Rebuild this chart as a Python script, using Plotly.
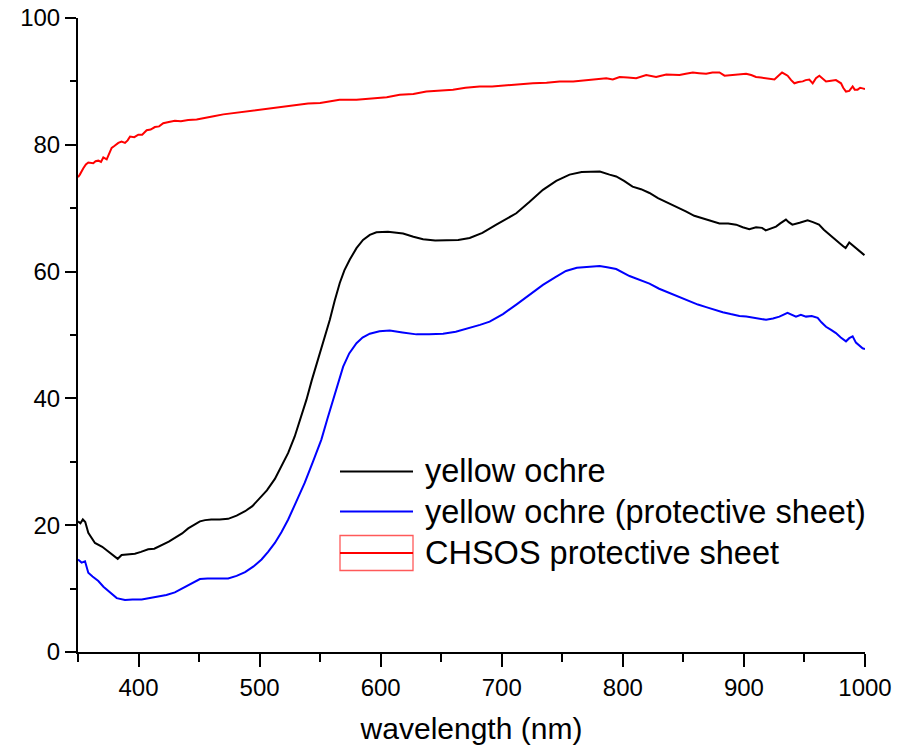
import plotly.graph_objects as go

# Reflectance spectra (%) vs wavelength (nm)
ochre_wl = [350, 352, 354, 356, 358.5, 361, 364, 370, 375, 379, 382.8, 386, 391, 397, 402, 408,
            413, 419, 425, 430, 436, 441, 446, 450.7, 455, 460, 467, 474, 481, 488, 494, 499,
            506, 512.6, 518, 523.6, 529, 534.6, 538.7, 543, 548, 553, 558, 562, 566.2, 570,
            574.5, 580, 585.4, 591, 596.5, 606, 612, 618.5, 627, 635, 645, 654, 664, 673.5,
            684, 695.5, 703, 712, 723, 734, 745, 756, 766, 775, 781, 789, 794.5, 801, 808, 815,
            822, 829, 835.8, 844, 852, 859, 866, 873, 879.8, 887, 893.6, 899, 904.5, 910, 915,
            918, 922, 926.5, 930, 934.7, 937, 940, 946, 952.6, 957, 962, 966, 970.6, 975,
            978.8, 982, 984, 987, 990, 992.5, 996, 999.5]
ochre_r = [20.6, 20.3, 20.9, 20.5, 18.8, 18.0, 17.2, 16.6, 15.9, 15.3, 14.7, 15.3, 15.4, 15.5,
           15.8, 16.2, 16.3, 16.8, 17.4, 18.0, 18.7, 19.5, 20.1, 20.6, 20.8, 20.9, 20.9, 21.0,
           21.5, 22.2, 23.0, 24.1, 25.5, 27.3, 29.2, 31.4, 34.0, 37.2, 39.8, 42.8, 46.0, 49.3,
           52.4, 55.4, 58.2, 60.2, 61.9, 63.7, 65.0, 65.8, 66.2, 66.3, 66.2, 66.0, 65.5, 65.1,
           64.9, 64.9, 65.0, 65.3, 66.1, 67.4, 68.2, 69.2, 71.0, 72.9, 74.3, 75.3, 75.7, 75.8,
           75.8, 75.3, 75.0, 74.3, 73.4, 73.0, 72.4, 71.6, 71.0, 70.2, 69.5, 68.8, 68.4, 67.9,
           67.6, 67.6, 67.4, 67.0, 66.7, 67.0, 66.9, 66.5, 66.8, 67.1, 67.6, 68.2, 67.8, 67.4,
           67.7, 68.1, 67.8, 67.4, 66.6, 65.8, 65.1, 64.5, 64.0, 63.7, 64.6, 64.1, 63.7, 63.1,
           62.6]

sheet_ochre_wl = [350, 353, 355.8, 358.5, 362, 366.8, 371, 375, 379, 382, 388.8, 395, 402.6, 409,
                  416, 423, 430, 436, 441, 446, 450.7, 457, 463, 474, 481, 488, 495, 501.6, 507,
                  512.6, 518, 523.6, 530, 537.3, 544, 551, 556, 560.7, 565, 569, 574, 580, 585,
                  591, 599, 607.5, 618, 629.5, 640, 651.5, 662, 673.5, 682, 690, 701, 712, 723,
                  734, 744, 753, 762, 772.5, 780.8, 787, 794.5, 805.5, 814, 822, 830, 838.6, 847,
                  855, 862, 868.8, 875, 882.5, 889, 896.3, 902, 907.3, 913, 918.3, 924, 929.3,
                  936, 940, 943, 947, 951.3, 956, 960.9, 964, 967.8, 972, 976, 980, 984.3, 987,
                  989.8, 992.5, 995, 998, 1000]
sheet_ochre_r = [14.6, 14.1, 14.3, 12.5, 11.9, 11.2, 10.3, 9.6, 8.9, 8.5, 8.2, 8.3, 8.3, 8.5, 8.7,
                 9.0, 9.4, 10.0, 10.6, 11.1, 11.5, 11.6, 11.6, 11.6, 12.0, 12.6, 13.5, 14.6, 15.8,
                 17.2, 18.9, 20.9, 23.6, 26.7, 30.0, 33.5, 36.8, 39.8, 42.8, 45.0, 47.1, 48.7,
                 49.6, 50.2, 50.6, 50.7, 50.4, 50.1, 50.1, 50.2, 50.5, 51.1, 51.6, 52.1, 53.3,
                 54.8, 56.4, 57.9, 59.1, 60.1, 60.6, 60.8, 60.9, 60.7, 60.4, 59.3, 58.7, 58.1,
                 57.3, 56.6, 55.9, 55.3, 54.8, 54.4, 54.0, 53.6, 53.3, 53.0, 52.9, 52.7, 52.6,
                 52.4, 52.6, 52.9, 53.5, 53.1, 52.9, 53.2, 52.9, 53.0, 52.7, 52.0, 51.3, 50.8,
                 50.3, 49.6, 49.0, 49.5, 49.8, 48.8, 48.4, 47.9, 47.8]

chsos_wl = [350, 351.5, 354.4, 356.5, 358.5, 362.6, 364.5, 366.8, 369, 370.9, 373.7, 375.5, 377.8,
            380, 383.3, 386, 388.8, 391, 393, 396.5, 399.8, 403, 406.7, 410, 413.5, 417, 420.4,
            425, 430, 435, 441, 448, 455, 462, 470, 478, 486, 494, 502, 510, 520, 530, 540, 550,
            558, 566, 580, 593.7, 605, 615.7, 627, 637.7, 648, 659.7, 670, 681.7, 692, 703.8,
            715, 725.7, 737, 747.8, 759, 769.8, 780.8, 786.3, 791.7, 797.3, 804, 811, 819.3,
            827.5, 835.8, 841, 846.8, 852, 857.8, 863, 868.8, 874, 879.8, 884, 890.8, 896, 901.8,
            906, 910, 914, 918.3, 922, 925.2, 928.5, 931.5, 933.5, 936.1, 939, 941.7, 945, 948.6,
            951, 954, 956.8, 959.5, 962.3, 965, 967.8, 972, 976, 980.2, 982, 984.3, 987, 989.8,
            991.5, 993.9, 996, 998, 1000]
chsos_r = [74.9, 75.3, 76.3, 76.9, 77.2, 77.1, 77.4, 77.5, 77.3, 78.0, 77.7, 78.4, 79.5, 79.8,
           80.3, 80.5, 80.3, 80.7, 81.3, 81.2, 81.6, 81.6, 82.3, 82.4, 82.8, 82.9, 83.4, 83.6,
           83.8, 83.7, 83.9, 84.0, 84.2, 84.5, 84.8, 85.0, 85.2, 85.4, 85.6, 85.7, 86.0, 86.2,
           86.5, 86.6, 86.8, 87.1, 87.1, 87.3, 87.5, 87.9, 88.0, 88.4, 88.5, 88.7, 89.0, 89.2,
           89.2, 89.4, 89.6, 89.7, 89.8, 90.0, 90.0, 90.2, 90.3, 90.5, 90.3, 90.7, 90.6, 90.5,
           91.0, 90.7, 91.1, 91.0, 91.0, 91.2, 91.4, 91.3, 91.2, 91.4, 91.4, 90.9, 91.0, 91.1,
           91.2, 91.0, 90.7, 90.6, 90.5, 90.4, 90.3, 90.9, 91.4, 91.2, 90.9, 90.2, 89.7, 89.9,
           90.0, 90.2, 90.3, 89.7, 90.5, 90.9, 90.4, 90.0, 90.1, 90.2, 89.7, 89.0, 88.4, 88.5,
           89.2, 88.7, 88.7, 89.0, 88.9, 88.8]

x_ticks = [400, 500, 600, 700, 800, 900, 1000]
y_ticks = [0, 20, 40, 60, 80, 100]

legend_labels = ["yellow ochre", "yellow ochre (protective sheet)", "CHSOS protective sheet"]

FONT = "Liberation Sans, Arial, sans-serif"

fig = go.Figure()
fig.add_trace(go.Scatter(x=ochre_wl, y=ochre_r, mode="lines",
                         line=dict(color="black", width=2), name=legend_labels[0]))
fig.add_trace(go.Scatter(x=sheet_ochre_wl, y=sheet_ochre_r, mode="lines",
                         line=dict(color="#0000ff", width=2), name=legend_labels[1]))
fig.add_trace(go.Scatter(x=chsos_wl, y=chsos_r, mode="lines",
                         line=dict(color="#ff0000", width=2), name=legend_labels[2]))

# Hand-drawn legend (paper coords from pixel positions inside the plot area)
L, T, W, H = 78, 18, 787, 634


def px(xp):
    return (xp - L) / W


def py(yp):
    return (T + H - yp) / H


shapes = [
    dict(type="line", xref="paper", yref="paper", x0=px(340), x1=px(413), y0=py(471.5), y1=py(471.5),
         line=dict(color="black", width=2)),
    dict(type="line", xref="paper", yref="paper", x0=px(340), x1=px(413), y0=py(511.5), y1=py(511.5),
         line=dict(color="#0000ff", width=2)),
    dict(type="rect", xref="paper", yref="paper", x0=px(340), x1=px(413), y0=py(535.5), y1=py(570.5),
         line=dict(color="rgba(255,0,0,0.65)", width=1.3), fillcolor="rgba(0,0,0,0)"),
    dict(type="line", xref="paper", yref="paper", x0=px(340), x1=px(413), y0=py(553), y1=py(553),
         line=dict(color="#ff0000", width=2)),
]
annotations = []
for lbl, yp in zip(legend_labels, [471, 512, 553]):
    annotations.append(dict(text=lbl, xref="paper", yref="paper", x=px(423), y=py(yp),
                            xanchor="left", yanchor="middle", showarrow=False,
                            font=dict(family=FONT, size=32.5, color="black")))

fig.update_layout(
    width=898, height=748,
    margin=dict(l=L, r=898 - L - W, t=T, b=748 - T - H, autoexpand=False),
    paper_bgcolor="white", plot_bgcolor="white",
    showlegend=False,
    shapes=shapes, annotations=annotations,
    font=dict(family=FONT, color="black"),
)
fig.update_xaxes(
    range=[350, 1000], showgrid=False, zeroline=False, automargin=False,
    showline=True, linecolor="black", linewidth=2,
    ticks="outside", ticklen=13, tickwidth=2, tickcolor="black",
    tickvals=x_ticks, tickfont=dict(family=FONT, size=24, color="black"),
    minor=dict(ticks="outside", tick0=350, dtick=50, ticklen=8, tickwidth=2, tickcolor="black"),
    title=dict(text="wavelength (nm)", font=dict(family=FONT, size=30, color="black"), standoff=18),
)
fig.update_yaxes(
    range=[0, 100], showgrid=False, zeroline=False, automargin=False,
    showline=True, linecolor="black", linewidth=2,
    ticks="outside", ticklen=11, tickwidth=2, tickcolor="black",
    tickvals=y_ticks, tickfont=dict(family=FONT, size=24, color="black"),
    minor=dict(ticks="outside", tick0=0, dtick=10, ticklen=6, tickwidth=2, tickcolor="black"),
)

fig.write_html("out.html")
